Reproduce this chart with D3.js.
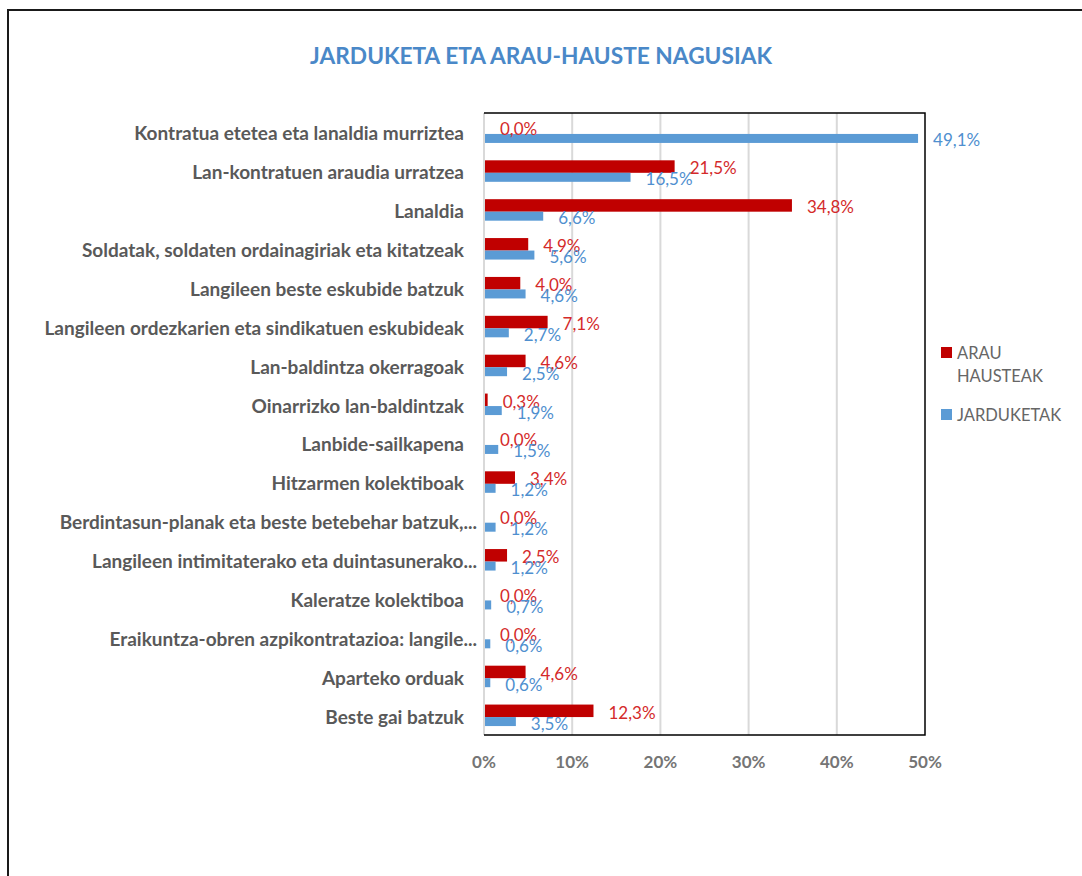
<!DOCTYPE html>
<html>
<head>
<meta charset="utf-8">
<script src="https://cdn.jsdelivr.net/npm/d3@7"></script>
<style>
  body { margin: 0; background: #fff; }
  text { font-family: Lato, "Open Sans", sans-serif; }
</style>
</head>
<body>
<svg id="chart" width="1082" height="876"></svg>
<script>
// data, top to bottom
var categories = [
  "Kontratua etetea eta lanaldia murriztea",
  "Lan-kontratuen araudia urratzea",
  "Lanaldia",
  "Soldatak, soldaten ordainagiriak eta kitatzeak",
  "Langileen beste eskubide batzuk",
  "Langileen ordezkarien eta sindikatuen eskubideak",
  "Lan-baldintza okerragoak",
  "Oinarrizko lan-baldintzak",
  "Lanbide-sailkapena",
  "Hitzarmen kolektiboak",
  "Berdintasun-planak eta beste betebehar batzuk,...",
  "Langileen intimitaterako eta duintasunerako...",
  "Kaleratze kolektiboa",
  "Eraikuntza-obren azpikontratazioa: langile...",
  "Aparteko orduak",
  "Beste gai batzuk"
];
var arauHausteak = [0.0, 21.5, 34.8, 4.9, 4.0, 7.1, 4.6, 0.3, 0.0, 3.4, 0.0, 2.5, 0.0, 0.0, 4.6, 12.3];
var jarduketak   = [49.1, 16.5, 6.6, 5.6, 4.6, 2.7, 2.5, 1.9, 1.5, 1.2, 1.2, 1.2, 0.7, 0.6, 0.6, 3.5];
var ticks = [0, 10, 20, 30, 40, 50];
var seriesNames = ["ARAU HAUSTEAK", "JARDUKETAK"];

var red = "#c00000", blue = "#5b9bd5";
var redText = "#d42a2a", blueText = "#4f8fcf";

var chart = d3.select("#chart");

// outer frame
chart.append("path")
  .attr("d", "M8,876 L8,10 L1082,10")
  .style("fill", "none")
  .style("stroke", "#1a1a1a")
  .style("stroke-width", 2);

chart.append("text")
  .attr("x", 541)
  .attr("y", 64)
  .attr("text-anchor", "middle")
  .attr("textLength", 462)
  .attr("lengthAdjust", "spacingAndGlyphs")
  .style("font-size", "22px")
  .style("font-weight", "bold")
  .style("fill", "#4a88c8")
  .text("JARDUKETA ETA ARAU-HAUSTE NAGUSIAK");

var x = d3.scaleLinear().domain([0, 50]).range([484, 925]);
var y = d3.scaleBand().domain(categories).range([113, 735]);

// gridlines
chart.append("g").selectAll("line")
  .data(ticks.slice(0, 5))
  .enter().append("line")
  .attr("x1", function(d) { return x(d); })
  .attr("x2", function(d) { return x(d); })
  .attr("y1", 113)
  .attr("y2", 735)
  .style("stroke", "#d9d9d9")
  .style("stroke-width", 2);

// plot border (top, right, bottom)
chart.append("path")
  .attr("d", "M" + x(0) + ",113 L" + x(50) + ",113 L" + x(50) + ",735 L" + x(0) + ",735")
  .style("fill", "none")
  .style("stroke", "#000")
  .style("stroke-width", 1.5);

function mid(c) { return y(c) + y.bandwidth() / 2 + 1.5; }

// ARAU HAUSTEAK bars
chart.append("g").selectAll("rect")
  .data(categories)
  .enter().append("rect")
  .attr("x", x(0) + 1)
  .attr("y", function(d) { return mid(d) - 12.5; })
  .attr("width", function(d, i) { return x(arauHausteak[i]) - x(0); })
  .attr("height", 12.5)
  .style("fill", red);

// JARDUKETAK bars
chart.append("g").selectAll("rect")
  .data(categories)
  .enter().append("rect")
  .attr("x", x(0) + 1)
  .attr("y", function(d) { return mid(d); })
  .attr("width", function(d, i) { return x(jarduketak[i]) - x(0); })
  .attr("height", 9)
  .style("fill", blue);

var fmt = function(v) { return v.toFixed(1).replace(".", ",") + "%"; };

chart.append("g").selectAll("text")
  .data(categories)
  .enter().append("text")
  .attr("x", function(d, i) { return x(arauHausteak[i]) + 16; })
  .attr("y", function(d) { return mid(d) + 1.5; })
  .style("font-size", "17px")
  .style("fill", redText)
  .text(function(d, i) { return fmt(arauHausteak[i]); });

chart.append("g").selectAll("text")
  .data(categories)
  .enter().append("text")
  .attr("x", function(d, i) { return x(jarduketak[i]) + 16; })
  .attr("y", function(d) { return mid(d) + 12.5; })
  .style("font-size", "17px")
  .style("fill", blueText)
  .text(function(d, i) { return fmt(jarduketak[i]); });

// category labels
chart.append("g").selectAll("text")
  .data(categories)
  .enter().append("text")
  .attr("x", function(d) { return /\.\.\.$/.test(d) ? 477 : 464; })
  .attr("y", function(d) { return mid(d) + 6.5; })
  .attr("text-anchor", "end")
  .style("font-size", "19px")
  .style("font-weight", "bold")
  .style("fill", "#595959")
  .text(function(d) { return d; });

// x tick labels
chart.append("g").selectAll("text")
  .data(ticks)
  .enter().append("text")
  .attr("x", function(d) { return x(d); })
  .attr("y", 768)
  .attr("text-anchor", "middle")
  .style("font-size", "17px")
  .style("font-weight", "bold")
  .style("fill", "#757575")
  .text(function(d) { return d + "%"; });

// legend
var legend = chart.append("g");
legend.append("rect").attr("x", 941).attr("y", 347).attr("width", 11).attr("height", 11).style("fill", red);
legend.append("rect").attr("x", 941).attr("y", 409).attr("width", 11).attr("height", 11).style("fill", blue);
legend.append("text").attr("x", 957).attr("y", 359).style("font-size", "16.5px").style("fill", "#666")
  .text(seriesNames[0].split(" ")[0]);
legend.append("text").attr("x", 957).attr("y", 382).style("font-size", "16.5px").style("fill", "#666")
  .text(seriesNames[0].split(" ")[1]);
legend.append("text").attr("x", 957).attr("y", 421).style("font-size", "16.5px").style("fill", "#666")
  .text(seriesNames[1]);
</script>
</body>
</html>
